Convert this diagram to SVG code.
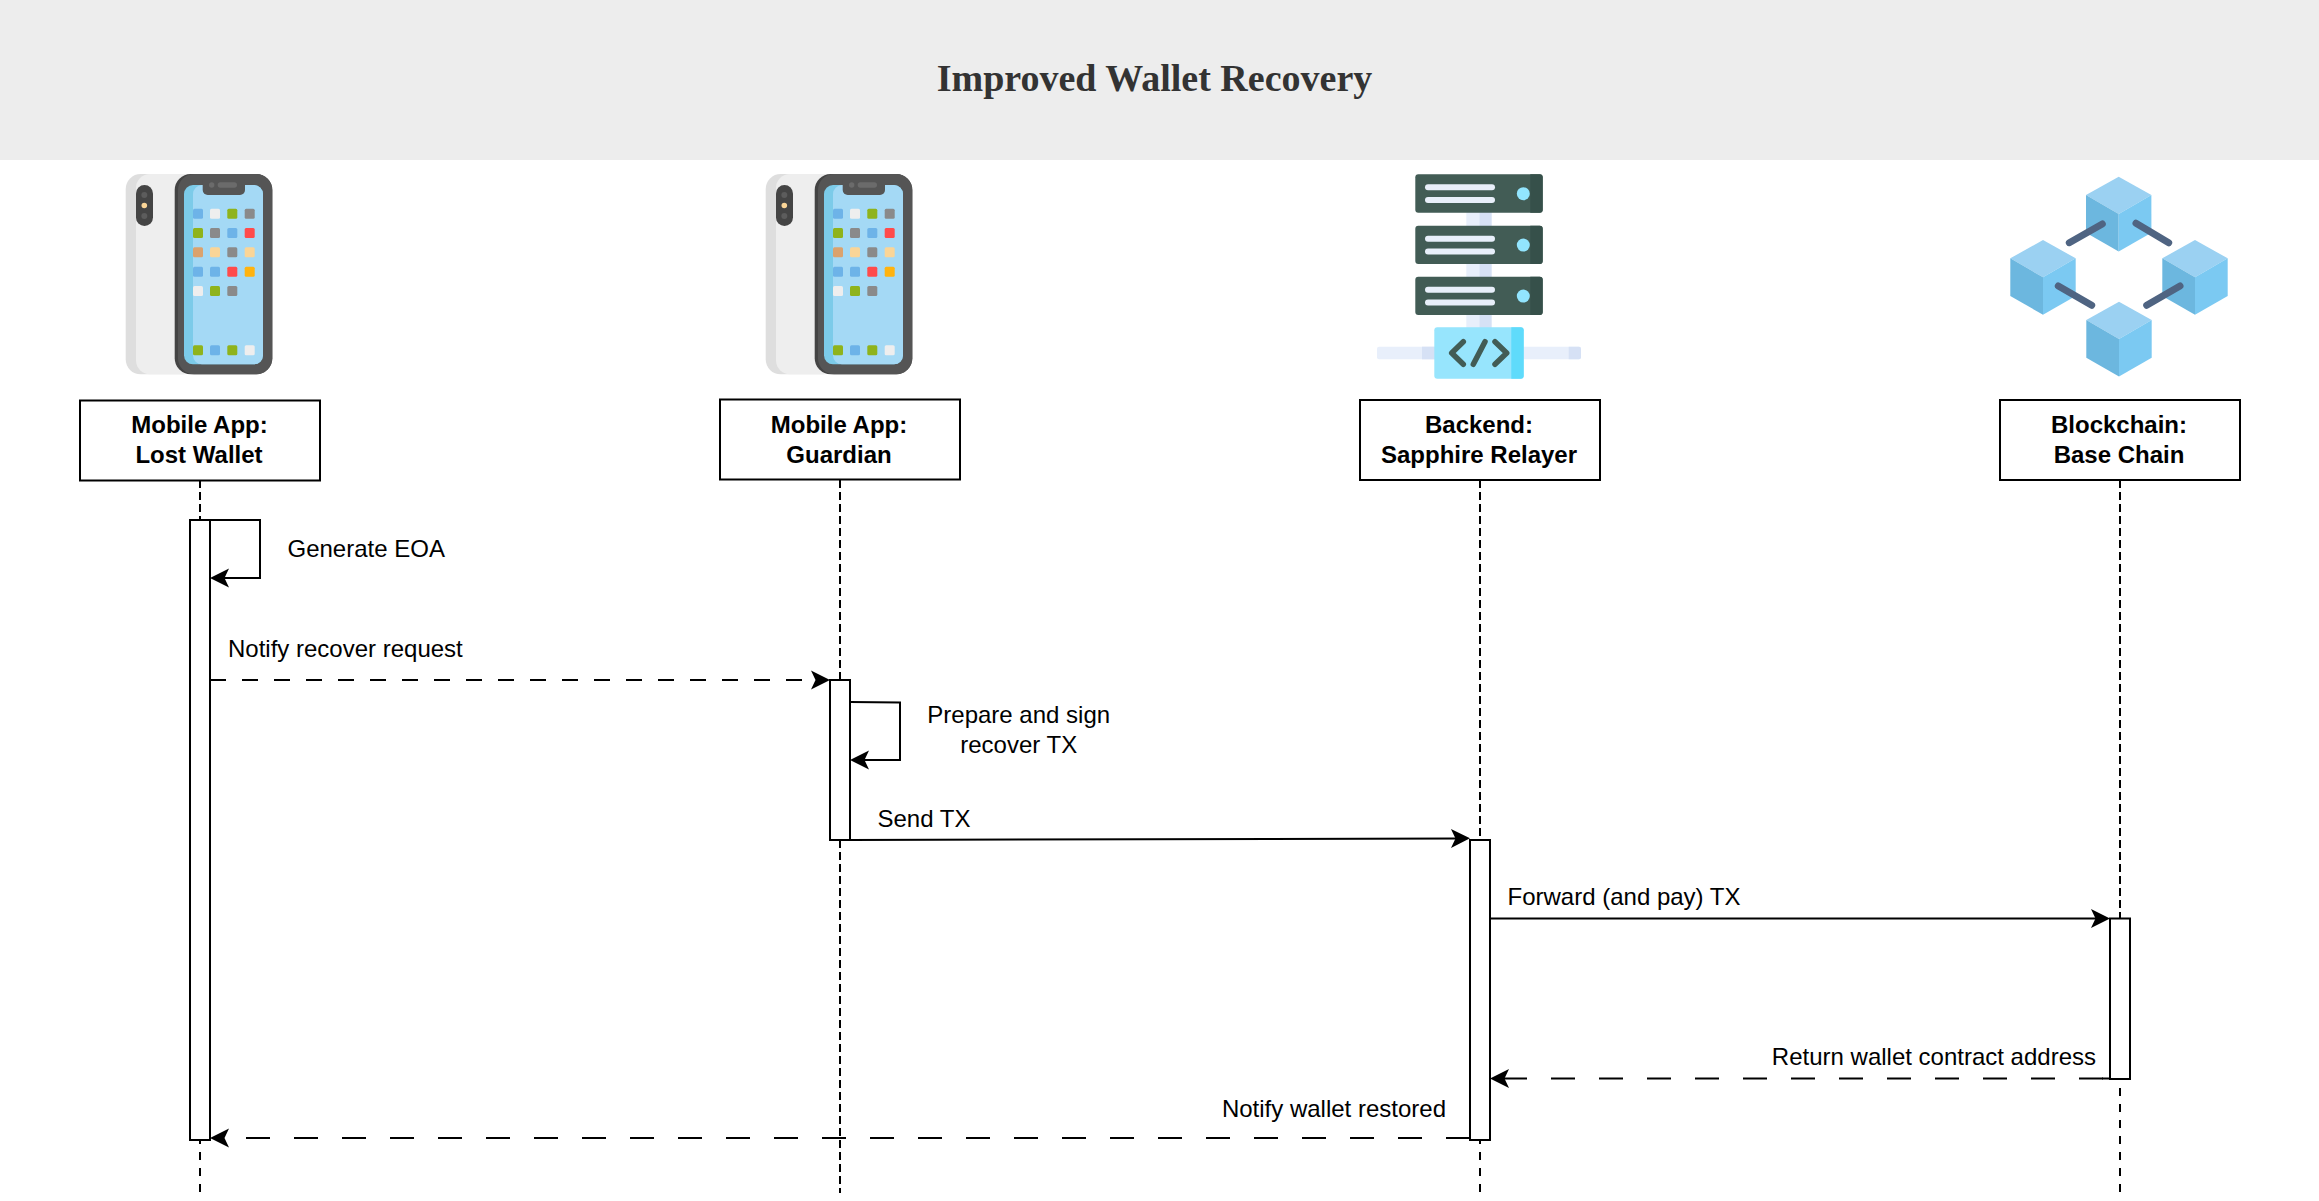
<svg xmlns="http://www.w3.org/2000/svg" xmlns:xlink="http://www.w3.org/1999/xlink" width="2319" height="1201" viewBox="0 0 2319 1201">
<style>
text{font-family:"Liberation Sans",Arial,sans-serif;font-size:24px;fill:#000}
.b{font-weight:bold;text-anchor:middle}
.m{text-anchor:middle}
.e{text-anchor:end}
.title{font-family:"Liberation Serif","Times New Roman",serif;font-size:38px;font-weight:bold;fill:#333;text-anchor:middle}
.box{fill:#fff;stroke:#000;stroke-width:2}
.ln{fill:none;stroke:#000;stroke-width:2}
.ll{stroke-dasharray:8 4}
.ll2{stroke-dasharray:8 8}
.d16{stroke-dasharray:16 16}
.d24{stroke-dasharray:24 24}
.bar{fill:#e8effa}
.cube-t{fill:#9bd1f2}.cube-l{fill:#6cb7df}.cube-r{fill:#7bc9f2}
.link{stroke:#4f6482;stroke-width:7;stroke-linecap:round}
</style>
<defs>
<marker id="arrow" markerUnits="userSpaceOnUse" markerWidth="19" markerHeight="19" refX="7" refY="9.5" orient="auto" overflow="visible"><path d="M19,9.5L0,0L4.5,9.5L0,19Z" fill="#000"/></marker>
<g id="phone">
<rect x="125.7" y="174" width="72" height="200.3" rx="15" fill="#dedede"/>
<rect x="136" y="174" width="62" height="200.3" rx="14" fill="#eeeeee"/>
<rect x="136" y="185" width="17" height="41" rx="8.5" fill="#444"/>
<circle cx="144.3" cy="195" r="3" fill="#5c5c5c"/><circle cx="144.3" cy="205.5" r="2.8" fill="#fad597"/><circle cx="144.3" cy="216" r="3" fill="#5c5c5c"/>
<rect x="174.7" y="174" width="97.6" height="200.3" rx="16" fill="#444"/>
<rect x="178" y="174" width="94.3" height="200.3" rx="16" fill="#555"/>
<rect x="184" y="185" width="79" height="179.3" rx="9" fill="#7ccbe9"/>
<rect x="193" y="185" width="70" height="179.3" rx="9" fill="#a4d9f5"/>
<rect x="202.7" y="176" width="42.3" height="19" rx="5" fill="#555"/>
<rect x="217.7" y="182.3" width="19.3" height="5.4" rx="2.7" fill="#6b6b6b"/><circle cx="211.7" cy="185" r="2.7" fill="#6b6b6b"/>
<g id="apps">
<rect x="193" y="208.7" width="10" height="10" rx="1.5" fill="#6db3e8"/><rect x="210" y="208.7" width="10" height="10" rx="1.5" fill="#eee"/><rect x="227.3" y="208.7" width="10" height="10" rx="1.5" fill="#8fb31b"/><rect x="244.7" y="208.7" width="10" height="10" rx="1.5" fill="#8a8a8a"/>
<rect x="193" y="228" width="10" height="10" rx="1.5" fill="#8fb31b"/><rect x="210" y="228" width="10" height="10" rx="1.5" fill="#8a8a8a"/><rect x="227.3" y="228" width="10" height="10" rx="1.5" fill="#6db3e8"/><rect x="244.7" y="228" width="10" height="10" rx="1.5" fill="#ff4b4b"/>
<rect x="193" y="247.3" width="10" height="10" rx="1.5" fill="#dba26d"/><rect x="210" y="247.3" width="10" height="10" rx="1.5" fill="#fad597"/><rect x="227.3" y="247.3" width="10" height="10" rx="1.5" fill="#8a8a8a"/><rect x="244.7" y="247.3" width="10" height="10" rx="1.5" fill="#fad597"/>
<rect x="193" y="266.7" width="10" height="10" rx="1.5" fill="#6db3e8"/><rect x="210" y="266.7" width="10" height="10" rx="1.5" fill="#6db3e8"/><rect x="227.3" y="266.7" width="10" height="10" rx="1.5" fill="#ff4b4b"/><rect x="244.7" y="266.7" width="10" height="10" rx="1.5" fill="#ffb30f"/>
<rect x="193" y="286" width="10" height="10" rx="1.5" fill="#eee"/><rect x="210" y="286" width="10" height="10" rx="1.5" fill="#8fb31b"/><rect x="227.3" y="286" width="10" height="10" rx="1.5" fill="#8a8a8a"/>
<rect x="193" y="345.3" width="10" height="10" rx="1.5" fill="#8fb31b"/><rect x="210" y="345.3" width="10" height="10" rx="1.5" fill="#6db3e8"/><rect x="227.3" y="345.3" width="10" height="10" rx="1.5" fill="#8fb31b"/><rect x="244.7" y="345.3" width="10" height="10" rx="1.5" fill="#eee"/>
</g>
</g>
<g id="server-unit">
<rect x="1415.3" y="174.3" width="127.4" height="38.4" rx="3" fill="#425c55"/>
<path d="M1530.3,174.3H1539.7a3,3 0 0 1 3,3V209.7a3,3 0 0 1 -3,3H1530.3Z" fill="#36504a"/>
<rect class="bar" x="1425" y="184.3" width="70" height="6" rx="3"/>
<rect class="bar" x="1425" y="197" width="70" height="6" rx="3"/>
<circle cx="1523.3" cy="193.7" r="6.5" fill="#92e5fe"/>
</g>
<g id="cube">
<path class="cube-t" d="M0,0L32.7,18.3L0,37.3L-32.7,18.3Z"/>
<path class="cube-l" d="M-32.7,18.3L0,37.3V74.7L-32.7,56Z"/>
<path class="cube-r" d="M32.7,18.3L0,37.3V74.7L32.7,56Z"/>
</g>
</defs>

<g id="header"><rect x="0" y="0" width="2319" height="160" fill="#ededed"/><text class="title" x="1154.5" y="91">Improved Wallet Recovery</text></g>

<g id="icons">
<use id="icon-phone-lost" xlink:href="#phone" href="#phone"/>
<use id="icon-phone-guardian" xlink:href="#phone" href="#phone" x="640"/>
<g id="icon-server">
<rect x="1466.3" y="212" width="13" height="116" fill="#e8effb"/><rect x="1479.3" y="212" width="12.4" height="116" fill="#d6e1f5"/>
<rect x="1377" y="346.7" width="204" height="12.6" rx="2" fill="#e8effb"/>
<rect x="1422" y="346.7" width="13" height="12.6" fill="#d6e1f5"/><path d="M1568.7,346.7H1579a2,2 0 0 1 2,2V357.3a2,2 0 0 1 -2,2H1568.7Z" fill="#d6e1f5"/>
<use xlink:href="#server-unit" href="#server-unit"/><use xlink:href="#server-unit" href="#server-unit" y="51.4"/><use xlink:href="#server-unit" href="#server-unit" y="102.4"/>
<rect x="1434.3" y="327.3" width="89.4" height="51.4" rx="3" fill="#97e5fd"/>
<path d="M1511.3,327.3H1520.7a3,3 0 0 1 3,3V375.7a3,3 0 0 1 -3,3H1511.3Z" fill="#5fdbfb"/>
<path d="M1463.3,341.7L1451.7,353L1463.3,364.3M1485,341.7L1473.3,364.3M1495,341.7L1506.7,353L1495,364.3" fill="none" stroke="#425c55" stroke-width="5.5" stroke-linecap="round" stroke-linejoin="round"/>
</g>
<g id="icon-blockchain">
<use xlink:href="#cube" href="#cube" x="2118.7" y="176.7"/><use xlink:href="#cube" href="#cube" x="2043" y="240"/><use xlink:href="#cube" href="#cube" x="2195" y="240"/><use xlink:href="#cube" href="#cube" x="2119" y="301.7"/>
<path class="link" d="M2069.3,242.7L2102.3,224M2136,223.3L2168.7,242.7M2058.3,286L2091.7,305.3M2146.7,305.3L2180,286"/>
</g>
</g>

<g id="connectors">
<path class="ln ll" d="M200,480V520"/><path class="ln ll2" d="M200,1136V1193"/>
<path class="ln ll" d="M840,480V680"/><path class="ln ll" d="M840,840V1193"/>
<path class="ln ll" d="M1480,480V840"/><path class="ln ll2" d="M1480,1136V1193"/>
<path class="ln ll" d="M2120,480V919"/><path class="ln ll2" d="M2120,1072V1193"/>
<path class="ln" marker-end="url(#arrow)" d="M210,520H260V578H222"/>
<text x="287.5" y="557">Generate EOA</text>
<path class="ln d16" marker-end="url(#arrow)" d="M210,680H818"/>
<text x="228" y="657">Notify recover request</text>
<path class="ln" marker-end="url(#arrow)" d="M850,702L900,702.5V760H862"/>
<text class="m" x="1018.7" y="723">Prepare and sign</text>
<text class="m" x="1018.7" y="753">recover TX</text>
<path class="ln" marker-end="url(#arrow)" d="M850,840L1458,838.4"/>
<text x="877.5" y="827">Send TX</text>
<path class="ln" marker-end="url(#arrow)" d="M1490,918.4H2098"/>
<text x="1507.5" y="904.5">Forward (and pay) TX</text>
<path class="ln d24" style="stroke-dashoffset:41" marker-end="url(#arrow)" d="M2110,1078.5H1502"/>
<path class="ln" d="M2110,1078.5H2102"/>
<text class="e" x="2096" y="1065">Return wallet contract address</text>
<path class="ln d24" marker-end="url(#arrow)" d="M1470,1138H222"/>
<text class="e" x="1446" y="1117">Notify wallet restored</text>
</g>

<g id="node-lost-wallet"><rect class="box" x="80" y="400.5" width="240" height="80"/><text class="b" x="199.5" y="432.7">Mobile App:</text><text class="b" x="199" y="462.7">Lost Wallet</text><rect class="box" x="190" y="520" width="20" height="620"/></g>
<g id="node-guardian"><rect class="box" x="720" y="399.5" width="240" height="80"/><text class="b" x="839" y="432.7">Mobile App:</text><text class="b" x="839" y="462.7">Guardian</text><rect class="box" x="830" y="680" width="20" height="160"/></g>
<g id="node-relayer"><rect class="box" x="1360" y="400" width="240" height="80"/><text class="b" x="1479" y="432.7">Backend:</text><text class="b" x="1479" y="462.7">Sapphire Relayer</text><rect class="box" x="1470" y="840" width="20" height="300"/></g>
<g id="node-chain"><rect class="box" x="2000" y="400" width="240" height="80"/><text class="b" x="2119" y="432.7">Blockchain:</text><text class="b" x="2119" y="462.7">Base Chain</text><rect class="box" x="2110" y="918.5" width="20" height="160.5"/></g>
</svg>
